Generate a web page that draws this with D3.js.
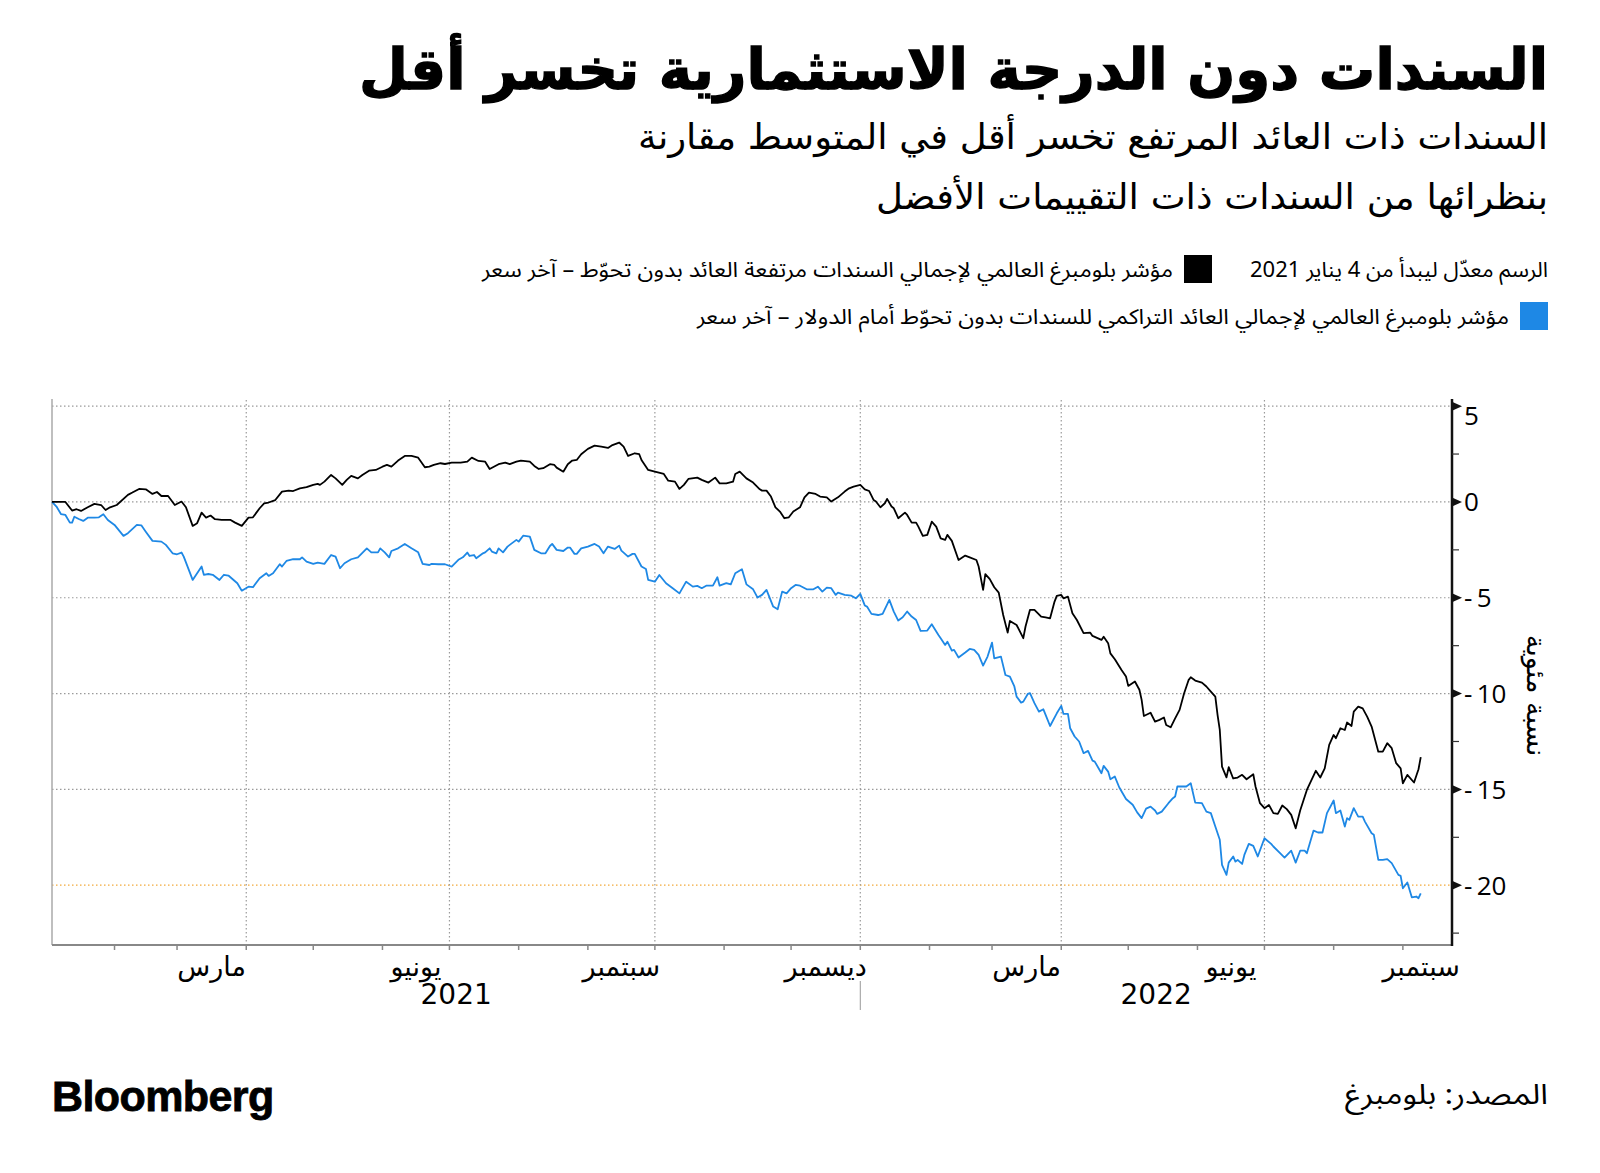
<!DOCTYPE html>
<html lang="ar">
<head>
<meta charset="utf-8">
<script src="https://cdn.jsdelivr.net/npm/d3@7"></script>
<style>
  body { margin: 0; background: #fff; }
  text { font-family: "Noto Sans Arabic", "DejaVu Sans", sans-serif; }
  .head { font-family: "DejaVu Sans", sans-serif; }
</style>
</head>
<body>
<div id="wrapper"></div>
<script>
// high yield index (black), rebased to 0 on 4 Jan 2021
const highYield = [
  ["2021-01-04",0],["2021-01-10",0.0],["2021-01-13",-0.45],["2021-01-15",-0.38],["2021-01-17",-0.47],["2021-01-20",-0.28],
  ["2021-01-23",-0.10],["2021-01-26",-0.16],["2021-01-28",-0.42],["2021-01-30",-0.28],["2021-02-02",-0.16],["2021-02-07",0.37],
  ["2021-02-09",0.49],["2021-02-12",0.68],["2021-02-15",0.66],["2021-02-18",0.42],["2021-02-20",0.52],["2021-02-22",0.31],
  ["2021-02-25",0.31],["2021-02-28",-0.16],["2021-03-03",0.02],["2021-03-05",-0.28],["2021-03-08",-1.25],["2021-03-10",-1.11],
  ["2021-03-12",-0.56],["2021-03-14",-0.82],["2021-03-16",-0.71],["2021-03-18",-0.90],["2021-03-21",-0.94],["2021-03-25",-0.94],
  ["2021-03-27",-1.08],["2021-03-30",-1.25],["2021-04-02",-0.82],["2021-04-04",-0.80],["2021-04-07",-0.33],["2021-04-09",-0.07],
  ["2021-04-11",-0.03],["2021-04-14",0.10],["2021-04-17",0.54],["2021-04-20",0.59],["2021-04-22",0.57],["2021-04-25",0.71],
  ["2021-04-28",0.77],["2021-05-01",0.89],["2021-05-03",0.94],["2021-05-04",0.89],["2021-05-06",1.06],["2021-05-09",1.41],
  ["2021-05-11",1.23],["2021-05-14",0.89],["2021-05-16",1.15],["2021-05-18",1.36],["2021-05-21",1.23],["2021-05-23",1.41],
  ["2021-05-26",1.63],["2021-05-29",1.67],["2021-06-01",1.84],["2021-06-03",1.93],["2021-06-05",1.84],["2021-06-08",2.16],
  ["2021-06-11",2.40],["2021-06-14",2.40],["2021-06-17",2.31],["2021-06-20",1.81],["2021-06-22",1.84],["2021-06-24",1.93],
  ["2021-06-27",2.02],["2021-06-29",1.98],["2021-07-02",2.05],["2021-07-06",2.05],["2021-07-09",2.10],["2021-07-11",2.31],
  ["2021-07-14",2.14],["2021-07-17",2.10],["2021-07-19",1.72],["2021-07-23",1.97],["2021-07-26",2.05],["2021-07-28",1.97],
  ["2021-07-31",2.10],["2021-08-02",2.16],["2021-08-06",2.10],["2021-08-08",1.88],["2021-08-10",1.72],["2021-08-12",1.76],
  ["2021-08-15",1.97],["2021-08-17",1.93],["2021-08-18",1.79],["2021-08-21",1.58],["2021-08-23",1.97],["2021-08-25",2.16],
  ["2021-08-27",2.19],["2021-08-29",2.49],["2021-09-01",2.77],["2021-09-04",2.94],["2021-09-07",2.89],["2021-09-10",2.82],
  ["2021-09-12",2.97],["2021-09-15",3.10],["2021-09-17",2.89],["2021-09-19",2.40],["2021-09-22",2.54],["2021-09-24",2.49],
  ["2021-09-25",2.19],["2021-09-28",1.67],["2021-10-01",1.58],["2021-10-05",1.46],["2021-10-07",1.11],["2021-10-10",1.06],
  ["2021-10-12",0.68],["2021-10-14",0.89],["2021-10-16",1.20],["2021-10-20",1.27],["2021-10-22",1.15],["2021-10-25",1.01],
  ["2021-10-28",1.27],["2021-10-30",0.97],["2021-11-02",0.97],["2021-11-05",1.06],["2021-11-06",1.46],["2021-11-08",1.58],
  ["2021-11-11",1.23],["2021-11-14",1.01],["2021-11-17",0.66],["2021-11-18",0.59],["2021-11-20",0.59],["2021-11-22",0.28],
  ["2021-11-24",-0.28],["2021-11-26",-0.50],["2021-11-28",-0.85],["2021-11-30",-0.80],["2021-12-02",-0.50],["2021-12-05",-0.28],
  ["2021-12-07",0.24],["2021-12-09",0.49],["2021-12-12",0.42],["2021-12-14",0.28],["2021-12-17",0.24],["2021-12-19",0.02],
  ["2021-12-22",0.24],["2021-12-25",0.54],["2021-12-27",0.71],["2021-12-29",0.80],["2022-01-01",0.89],["2022-01-03",0.66],
  ["2022-01-05",0.57],["2022-01-07",0.10],["2022-01-08",0.02],["2022-01-10",-0.28],["2022-01-12",-0.07],["2022-01-13",0.16],
  ["2022-01-15",-0.24],["2022-01-16",-0.33],["2022-01-18",-0.85],["2022-01-21",-0.56],["2022-01-22",-0.68],["2022-01-24",-1.08],
  ["2022-01-26",-1.08],["2022-01-27",-1.29],["2022-01-29",-1.77],["2022-01-31",-1.72],["2022-02-02",-1.03],["2022-02-04",-1.29],
  ["2022-02-06",-1.90],["2022-02-08",-1.98],["2022-02-09",-1.72],["2022-02-11",-2.03],["2022-02-14",-3.03],["2022-02-17",-2.80],
  ["2022-02-19",-2.89],["2022-02-22",-3.03],["2022-02-23",-3.37],["2022-02-25",-4.59],["2022-02-26",-3.77],["2022-02-28",-4.03],
  ["2022-03-02",-4.45],["2022-03-04",-4.73],["2022-03-06",-5.90],["2022-03-08",-6.82],["2022-03-09",-6.21],["2022-03-12",-6.42],
  ["2022-03-15",-7.11],["2022-03-16",-6.50],["2022-03-18",-5.63],["2022-03-20",-5.63],["2022-03-23",-5.98],["2022-03-25",-6.02],
  ["2022-03-27",-6.07],["2022-03-29",-5.20],["2022-03-30",-4.90],["2022-04-01",-4.85],["2022-04-02",-5.03],["2022-04-04",-4.94],
  ["2022-04-06",-5.81],["2022-04-08",-6.16],["2022-04-11",-6.85],["2022-04-14",-6.82],["2022-04-15",-6.99],["2022-04-19",-7.20],
  ["2022-04-20",-7.03],["2022-04-22",-7.37],["2022-04-23",-7.90],["2022-04-25",-8.21],["2022-04-28",-8.77],["2022-04-30",-9.11],
  ["2022-05-01",-9.60],["2022-05-04",-9.37],["2022-05-06",-9.80],["2022-05-07",-10.33],["2022-05-08",-11.17],["2022-05-11",-11.00],
  ["2022-05-13",-11.46],["2022-05-15",-11.37],["2022-05-17",-11.25],["2022-05-18",-11.64],["2022-05-20",-11.76],["2022-05-22",-11.29],
  ["2022-05-24",-10.85],["2022-05-26",-10.00],["2022-05-28",-9.30],["2022-05-29",-9.15],["2022-05-31",-9.32],["2022-06-03",-9.43],
  ["2022-06-05",-9.63],["2022-06-07",-9.90],["2022-06-09",-10.16],["2022-06-10",-11.11],["2022-06-11",-11.90],["2022-06-12",-13.81],
  ["2022-06-14",-14.37],["2022-06-15",-13.84],["2022-06-17",-14.43],["2022-06-19",-14.38],["2022-06-21",-14.24],["2022-06-23",-14.47],
  ["2022-06-26",-14.21],["2022-06-27",-14.85],["2022-06-29",-15.72],["2022-07-01",-15.98],["2022-07-03",-15.81],["2022-07-05",-16.24],
  ["2022-07-07",-16.28],["2022-07-09",-15.84],["2022-07-11",-16.03],["2022-07-13",-16.33],["2022-07-15",-17.03],["2022-07-17",-16.10],
  ["2022-07-20",-15.03],["2022-07-24",-14.03],["2022-07-26",-14.38],["2022-07-28",-13.90],["2022-07-30",-12.68],["2022-08-01",-12.16],
  ["2022-08-02",-12.33],["2022-08-04",-11.81],["2022-08-06",-11.90],["2022-08-07",-11.51],["2022-08-09",-11.69],["2022-08-10",-10.94],
  ["2022-08-12",-10.68],["2022-08-14",-10.77],["2022-08-16",-11.20],["2022-08-18",-11.72],["2022-08-21",-13.03],["2022-08-23",-13.03],
  ["2022-08-25",-12.59],["2022-08-27",-12.85],["2022-08-29",-13.63],["2022-08-31",-13.90],["2022-09-01",-14.68],["2022-09-03",-14.24],
  ["2022-09-06",-14.64],["2022-09-08",-13.95],["2022-09-09",-13.32]
]

// global aggregate index (blue)
const aggregate = [
  ["2021-01-04",0],["2021-01-06",-0.24],["2021-01-08",-0.63],["2021-01-10",-0.68],["2021-01-12",-1.08],["2021-01-13",-1.08],
  ["2021-01-14",-0.77],["2021-01-16",-0.89],["2021-01-18",-0.99],["2021-01-20",-0.82],["2021-01-23",-0.82],["2021-01-25",-0.80],
  ["2021-01-27",-0.64],["2021-01-29",-0.94],["2021-02-01",-1.20],["2021-02-05",-1.77],["2021-02-07",-1.63],["2021-02-11",-1.20],
  ["2021-02-13",-1.22],["2021-02-15",-1.55],["2021-02-18",-2.03],["2021-02-22",-2.07],["2021-02-24",-2.24],["2021-02-27",-2.68],
  ["2021-03-01",-2.73],["2021-03-03",-2.64],["2021-03-04",-2.85],["2021-03-08",-4.07],["2021-03-12",-3.37],["2021-03-13",-3.80],
  ["2021-03-15",-3.76],["2021-03-17",-3.80],["2021-03-20",-4.07],["2021-03-22",-3.80],["2021-03-24",-3.84],["2021-03-28",-4.24],
  ["2021-03-30",-4.63],["2021-04-02",-4.42],["2021-04-04",-4.45],["2021-04-07",-3.98],["2021-04-10",-3.72],["2021-04-11",-3.86],
  ["2021-04-13",-3.72],["2021-04-16",-3.25],["2021-04-17",-3.37],["2021-04-19",-3.08],["2021-04-22",-2.99],["2021-04-25",-2.99],
  ["2021-04-26",-2.89],["2021-04-28",-3.11],["2021-05-01",-3.23],["2021-05-03",-3.17],["2021-05-06",-3.23],["2021-05-09",-2.77],
  ["2021-05-11",-2.85],["2021-05-13",-3.46],["2021-05-15",-3.20],["2021-05-18",-2.99],["2021-05-21",-2.89],["2021-05-25",-2.42],
  ["2021-05-27",-2.63],["2021-05-30",-2.63],["2021-05-31",-2.42],["2021-06-02",-2.63],["2021-06-04",-2.89],["2021-06-05",-2.56],
  ["2021-06-08",-2.42],["2021-06-11",-2.19],["2021-06-14",-2.42],["2021-06-17",-2.63],["2021-06-19",-3.23],["2021-06-22",-3.29],
  ["2021-06-23",-3.23],["2021-06-26",-3.25],["2021-06-29",-3.25],["2021-07-02",-3.37],["2021-07-05",-3.02],["2021-07-07",-2.89],
  ["2021-07-09",-2.64],["2021-07-10",-2.82],["2021-07-12",-2.77],["2021-07-13",-2.94],["2021-07-16",-2.68],["2021-07-17",-2.63],
  ["2021-07-19",-2.42],["2021-07-20",-2.59],["2021-07-22",-2.68],["2021-07-23",-2.42],["2021-07-25",-2.63],["2021-07-27",-2.33],
  ["2021-07-28",-2.24],["2021-07-31",-1.98],["2021-08-01",-2.07],["2021-08-03",-1.76],["2021-08-06",-1.81],["2021-08-08",-2.50],
  ["2021-08-11",-2.68],["2021-08-13",-2.68],["2021-08-15",-2.30],["2021-08-16",-2.19],["2021-08-18",-2.50],["2021-08-21",-2.56],
  ["2021-08-23",-2.38],["2021-08-24",-2.38],["2021-08-26",-2.71],["2021-08-27",-2.71],["2021-08-29",-2.42],["2021-09-01",-2.33],
  ["2021-09-04",-2.19],["2021-09-06",-2.33],["2021-09-08",-2.68],["2021-09-10",-2.33],["2021-09-13",-2.45],["2021-09-15",-2.28],
  ["2021-09-16",-2.54],["2021-09-19",-2.85],["2021-09-21",-2.71],["2021-09-22",-2.71],["2021-09-25",-3.37],["2021-09-27",-3.50],
  ["2021-09-28",-4.07],["2021-10-01",-4.16],["2021-10-03",-3.81],["2021-10-06",-4.24],["2021-10-09",-4.50],["2021-10-12",-4.77],
  ["2021-10-15",-4.16],["2021-10-18",-4.42],["2021-10-20",-4.38],["2021-10-22",-4.50],["2021-10-24",-4.37],["2021-10-27",-4.37],
  ["2021-10-29",-3.93],["2021-10-30",-4.37],["2021-11-02",-4.24],["2021-11-04",-4.30],["2021-11-06",-3.72],["2021-11-09",-3.51],
  ["2021-11-11",-4.30],["2021-11-14",-4.56],["2021-11-16",-4.99],["2021-11-18",-4.85],["2021-11-20",-4.59],["2021-11-23",-5.46],
  ["2021-11-25",-5.60],["2021-11-27",-4.68],["2021-11-29",-4.77],["2021-12-01",-4.50],["2021-12-03",-4.33],["2021-12-05",-4.37],
  ["2021-12-08",-4.56],["2021-12-11",-4.56],["2021-12-13",-4.42],["2021-12-15",-4.68],["2021-12-17",-4.47],["2021-12-19",-4.50],
  ["2021-12-21",-4.85],["2021-12-22",-4.73],["2021-12-25",-4.85],["2021-12-28",-4.89],["2021-12-30",-5.03],["2022-01-01",-4.80],
  ["2022-01-03",-5.40],["2022-01-04",-5.46],["2022-01-06",-5.84],["2022-01-09",-5.90],["2022-01-11",-5.84],["2022-01-14",-5.11],
  ["2022-01-16",-5.72],["2022-01-18",-6.19],["2022-01-20",-6.02],["2022-01-22",-5.72],["2022-01-24",-5.98],["2022-01-26",-6.16],
  ["2022-01-28",-6.73],["2022-01-31",-6.71],["2022-02-02",-6.38],["2022-02-05",-6.94],["2022-02-06",-7.11],["2022-02-08",-7.46],
  ["2022-02-09",-7.29],["2022-02-11",-7.76],["2022-02-12",-7.72],["2022-02-14",-8.12],["2022-02-17",-7.86],["2022-02-19",-7.67],
  ["2022-02-21",-7.72],["2022-02-23",-7.98],["2022-02-25",-8.54],["2022-02-27",-8.07],["2022-03-01",-7.34],["2022-03-02",-8.16],
  ["2022-03-05",-8.07],["2022-03-07",-9.03],["2022-03-09",-9.11],["2022-03-11",-9.63],["2022-03-12",-10.16],["2022-03-14",-10.47],
  ["2022-03-15",-10.42],["2022-03-17",-10.02],["2022-03-18",-9.98],["2022-03-20",-10.50],["2022-03-22",-10.94],["2022-03-24",-10.82],
  ["2022-03-25",-11.11],["2022-03-27",-11.69],["2022-03-30",-11.03],["2022-04-01",-10.64],["2022-04-02",-11.06],["2022-04-04",-11.06],
  ["2022-04-05",-11.81],["2022-04-07",-12.24],["2022-04-09",-12.50],["2022-04-11",-13.11],["2022-04-13",-12.99],["2022-04-15",-13.50],
  ["2022-04-16",-13.55],["2022-04-19",-14.16],["2022-04-20",-13.77],["2022-04-22",-14.07],["2022-04-23",-14.47],["2022-04-25",-14.33],
  ["2022-04-27",-14.90],["2022-04-30",-15.50],["2022-05-03",-15.80],["2022-05-05",-16.20],["2022-05-07",-16.50],["2022-05-09",-16.00],
  ["2022-05-11",-15.90],["2022-05-13",-16.10],["2022-05-14",-16.28],["2022-05-16",-16.16],["2022-05-19",-15.72],["2022-05-21",-15.46],
  ["2022-05-22",-15.37],["2022-05-23",-14.85],["2022-05-25",-14.85],["2022-05-27",-14.85],["2022-05-29",-14.68],["2022-05-31",-15.69],
  ["2022-06-03",-15.72],["2022-06-05",-16.16],["2022-06-07",-16.24],["2022-06-09",-16.94],["2022-06-11",-17.63],["2022-06-12",-18.94],
  ["2022-06-14",-19.46],["2022-06-15",-18.82],["2022-06-17",-18.50],["2022-06-18",-18.77],["2022-06-19",-18.68],["2022-06-21",-18.89],
  ["2022-06-22",-18.42],["2022-06-24",-17.84],["2022-06-26",-17.95],["2022-06-28",-18.50],["2022-07-01",-17.55],["2022-07-04",-17.84],
  ["2022-07-05",-17.98],["2022-07-08",-18.33],["2022-07-10",-18.56],["2022-07-13",-18.20],["2022-07-15",-18.82],["2022-07-17",-18.20],
  ["2022-07-19",-18.20],["2022-07-20",-18.33],["2022-07-23",-17.15],["2022-07-25",-17.25],["2022-07-27",-17.25],["2022-07-29",-16.24],
  ["2022-08-01",-15.58],["2022-08-02",-16.24],["2022-08-04",-16.10],["2022-08-06",-16.94],["2022-08-07",-16.50],["2022-08-08",-16.59],
  ["2022-08-10",-15.98],["2022-08-12",-16.42],["2022-08-14",-16.42],["2022-08-15",-16.68],["2022-08-18",-17.29],["2022-08-19",-17.37],
  ["2022-08-21",-18.68],["2022-08-23",-18.68],["2022-08-25",-18.64],["2022-08-27",-18.85],["2022-08-30",-19.46],["2022-08-31",-19.51],
  ["2022-09-01",-20.16],["2022-09-03",-19.86],["2022-09-05",-20.63],["2022-09-07",-20.59],["2022-09-08",-20.68],["2022-09-09",-20.42]
]

const yTickValues = [5, 0, -5, -10, -15, -20]
const monthLabels = [
  ["2021-03-01", "مارس"], ["2021-06-01", "يونيو"], ["2021-09-01", "سبتمبر"], ["2021-12-01", "ديسمبر"],
  ["2022-03-01", "مارس"], ["2022-06-01", "يونيو"], ["2022-09-01", "سبتمبر"]
]
const yearLabels = ["2021", "2022"]
const referenceValue = -20

const titleText = "السندات دون الدرجة الاستثمارية تخسر أقل"
const subtitleLines = ["السندات ذات العائد المرتفع تخسر أقل في المتوسط مقارنة", "بنظرائها من السندات ذات التقييمات الأفضل"]
const noteText = "الرسم معدّل ليبدأ من 4 يناير 2021"
const legendItems = [
  "مؤشر بلومبرغ العالمي لإجمالي السندات مرتفعة العائد بدون تحوّط – آخر سعر",
  "مؤشر بلومبرغ العالمي لإجمالي العائد التراكمي للسندات بدون تحوّط أمام الدولار – آخر سعر"
]
const yAxisTitle = "نسبة مئوية"
const sourceText = "المصدر: بلومبرغ"

function drawChart() {
  const parse = d3.timeParse("%Y-%m-%d")
  const xAccessor = d => parse(d[0])
  const yAccessor = d => d[1]

  let dimensions = {
    width: 1600,
    height: 1173,
    margin: { top: 400, right: 148, bottom: 228, left: 52 },
  }
  dimensions.boundedWidth = dimensions.width - dimensions.margin.left - dimensions.margin.right
  dimensions.boundedHeight = dimensions.height - dimensions.margin.top - dimensions.margin.bottom

  const svg = d3.select("#wrapper")
    .append("svg")
    .attr("width", dimensions.width)
    .attr("height", dimensions.height)

  svg.append("rect").attr("width", dimensions.width).attr("height", dimensions.height).attr("fill", "#fff")

  // header
  const rightEdge = 1548
  const fit = (sel, w) => sel.attr("textLength", w).attr("lengthAdjust", "spacingAndGlyphs")

  svg.append("text")
    .attr("class", "head")
    .attr("x", rightEdge).attr("y", 89)
    .attr("text-anchor", "end")
    .style("font-size", "56px").style("font-weight", "bold")
    .attr("stroke", "#000").attr("stroke-width", 1.4)
    .text(titleText)
    .call(fit, 1189)

  const subWidths = [910, 672]
  subtitleLines.forEach((line, i) => {
    svg.append("text")
      .attr("class", "head")
      .attr("x", rightEdge).attr("y", 149 + i * 60)
      .attr("text-anchor", "end")
      .style("font-size", "35px")
      .text(line)
      .call(fit, subWidths[i])
  })

  // legend
  svg.append("text")
    .attr("x", rightEdge).attr("y", 277)
    .attr("text-anchor", "end").style("font-size", "21px")
    .text(noteText).call(fit, 298)

  svg.append("rect").attr("x", 1184).attr("y", 255).attr("width", 28).attr("height", 28).attr("fill", "#000")
  svg.append("text")
    .attr("x", 1173).attr("y", 277)
    .attr("text-anchor", "end").style("font-size", "21px")
    .text(legendItems[0]).call(fit, 691)

  svg.append("rect").attr("x", 1520).attr("y", 302).attr("width", 28).attr("height", 28).attr("fill", "#1e88e5")
  svg.append("text")
    .attr("x", 1509).attr("y", 324)
    .attr("text-anchor", "end").style("font-size", "21px")
    .text(legendItems[1]).call(fit, 812)

  // bounds
  const bounds = svg.append("g")
    .attr("transform", `translate(${dimensions.margin.left}, ${dimensions.margin.top})`)

  const xScaler = d3.scaleTime()
    .domain([parse("2021-01-04"), parse("2022-09-23")])
    .range([0, dimensions.boundedWidth])

  const yScaler = d3.scaleLinear()
    .domain([-23.12, 5.32])
    .range([dimensions.boundedHeight, 0])

  const [xStart, xEnd] = xScaler.domain()

  // horizontal gridlines
  bounds.append("g").selectAll("line")
    .data(yTickValues)
    .join("line")
    .attr("x1", 0).attr("x2", dimensions.boundedWidth)
    .attr("y1", d => yScaler(d)).attr("y2", d => yScaler(d))
    .attr("stroke", d => d === referenceValue ? "#f2a93b" : "#9a9a9a")
    .attr("stroke-width", 1.2)
    .attr("stroke-dasharray", "1.5,2.5")

  // vertical gridlines at quarter starts
  const quarterTicks = xScaler.ticks(d3.timeMonth.every(3)).filter(d => d > xStart)
  bounds.append("g").selectAll("line")
    .data(quarterTicks)
    .join("line")
    .attr("x1", d => xScaler(d)).attr("x2", d => xScaler(d))
    .attr("y1", 0).attr("y2", dimensions.boundedHeight)
    .attr("stroke", "#9a9a9a")
    .attr("stroke-width", 1.2)
    .attr("stroke-dasharray", "1.5,2.5")

  // frame
  bounds.append("line")
    .attr("x1", 0).attr("x2", 0).attr("y1", -1).attr("y2", dimensions.boundedHeight)
    .attr("stroke", "#aaa").attr("stroke-width", 1.5)
  bounds.append("line")
    .attr("x1", 0).attr("x2", dimensions.boundedWidth)
    .attr("y1", dimensions.boundedHeight).attr("y2", dimensions.boundedHeight)
    .attr("stroke", "#888").attr("stroke-width", 2)

  // month ticks
  const monthTicks = d3.timeMonth.range(d3.timeMonth.ceil(xStart), xEnd)
  bounds.append("g").selectAll("line")
    .data(monthTicks)
    .join("line")
    .attr("x1", d => xScaler(d)).attr("x2", d => xScaler(d))
    .attr("y1", dimensions.boundedHeight).attr("y2", dimensions.boundedHeight + 5)
    .attr("stroke", "#888").attr("stroke-width", 1.5)

  // month labels centred in their month
  const labelRightLimit = dimensions.boundedWidth + 8
  bounds.append("g").selectAll("text")
    .data(monthLabels)
    .join("text")
    .attr("y", dimensions.boundedHeight + 31)
    .attr("text-anchor", "middle")
    .style("font-family", "'DejaVu Sans', sans-serif")
    .style("font-size", "27px")
    .text(d => d[1])
    .attr("x", function (d) {
      const m0 = parse(d[0])
      const m1 = d3.min([d3.timeMonth.offset(m0, 1), xEnd])
      const mid = (xScaler(m0) + xScaler(m1)) / 2
      const w = this.getComputedTextLength()
      return Math.min(mid, labelRightLimit - w / 2)
    })

  // year labels
  bounds.append("g").selectAll("text")
    .data(yearLabels)
    .join("text")
    .attr("x", d => {
      const y0 = d3.max([parse(d + "-01-01"), xStart])
      const y1 = d3.min([parse((+d + 1) + "-01-01"), xEnd])
      return (xScaler(y0) + xScaler(y1)) / 2
    })
    .attr("y", dimensions.boundedHeight + 59)
    .attr("text-anchor", "middle")
    .style("font-family", "'DejaVu Sans', sans-serif")
    .style("font-size", "28px")
    .text(d => d)

  // year divider
  const yearBreaks = d3.timeYear.range(d3.timeYear.ceil(xStart), xEnd)
  bounds.append("g").selectAll("line")
    .data(yearBreaks)
    .join("line")
    .attr("x1", d => xScaler(d)).attr("x2", d => xScaler(d))
    .attr("y1", dimensions.boundedHeight + 36).attr("y2", dimensions.boundedHeight + 65)
    .attr("stroke", "#999").attr("stroke-width", 1)

  // y axis on the right
  const axisX = dimensions.boundedWidth
  bounds.append("line")
    .attr("x1", axisX).attr("x2", axisX).attr("y1", -1).attr("y2", dimensions.boundedHeight + 1)
    .attr("stroke", "#111").attr("stroke-width", 2.5)

  const minorTicks = d3.range(-22.5, 5, 5)
  bounds.append("g").selectAll("line")
    .data(minorTicks)
    .join("line")
    .attr("x1", axisX).attr("x2", axisX + 7)
    .attr("y1", d => yScaler(d)).attr("y2", d => yScaler(d))
    .attr("stroke", "#333").attr("stroke-width", 1.2)

  const yTicks = bounds.append("g").selectAll("g")
    .data(yTickValues)
    .join("g")
    .attr("transform", d => `translate(${axisX}, ${yScaler(d)})`)
  yTicks.append("path")
    .attr("d", "M0,-4.5L10,0L0,4.5Z")
    .attr("fill", "#111")
  // top label is nudged down so it stays inside the plot
  yTicks.append("text")
    .attr("x", 12)
    .attr("y", d => Math.max(0, 16 - yScaler(d)))
    .attr("dy", "0.36em")
    .style("font-family", "'Open Sans', 'DejaVu Sans', sans-serif")
    .style("font-size", "26px")
    .text(d => d < 0 ? "-\u2009" + Math.abs(d) : d)

  bounds.append("text")
    .attr("transform", `translate(${axisX + 84}, ${yScaler(-10.1)}) rotate(90)`)
    .attr("text-anchor", "middle")
    .attr("dy", "0.35em")
    .style("font-family", "'DejaVu Sans', sans-serif")
    .style("font-size", "27px")
    .text(yAxisTitle)

  // lines
  const lineGenerator = d3.line()
    .x(d => xScaler(xAccessor(d)))
    .y(d => yScaler(yAccessor(d)))

  bounds.append("path")
    .datum(aggregate)
    .attr("d", lineGenerator)
    .attr("fill", "none")
    .attr("stroke", "#1e88e5")
    .attr("stroke-width", 1.8)
    .attr("stroke-linejoin", "round")

  bounds.append("path")
    .datum(highYield)
    .attr("d", lineGenerator)
    .attr("fill", "none")
    .attr("stroke", "#000")
    .attr("stroke-width", 1.8)
    .attr("stroke-linejoin", "round")

  // footer
  svg.append("text")
    .attr("x", 52).attr("y", 1111)
    .style("font-family", "'Liberation Sans', Arial, sans-serif")
    .style("font-size", "43px").style("font-weight", "bold")
    .style("letter-spacing", "-0.6px")
    .attr("stroke", "#000").attr("stroke-width", 0.8)
    .text("Bloomberg")

  svg.append("text")
    .attr("x", rightEdge).attr("y", 1104)
    .attr("text-anchor", "end")
    .style("font-size", "28px")
    .text(sourceText).call(fit, 203)
}

drawChart()
</script>
</body>
</html>
